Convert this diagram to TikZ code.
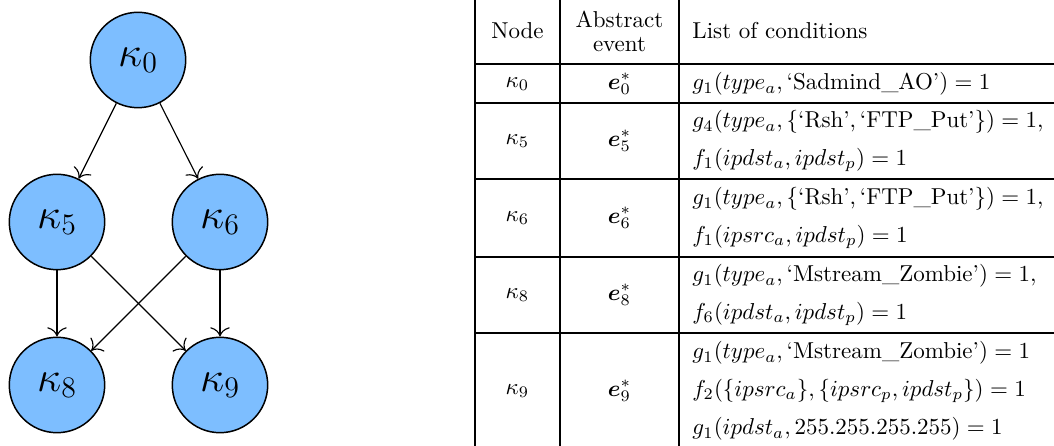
\documentclass[tikz,border=0pt]{standalone}
\usepackage{graphicx,amsmath,amssymb}
\definecolor{nodeblue}{RGB}{125,190,255}
\usetikzlibrary{arrows.meta,positioning}
\newcommand{\bigk}[1]{\scalebox{0.9}{$\kappa_{#1}$}}

\begin{document}
\begin{tikzpicture}[x=0.435pt, y=-0.435pt, >={To[scale=1.5]},
  kap/.style={circle, draw, line width=0.65pt, fill=nodeblue, minimum size=41.5pt, inner sep=0pt, font=\huge},
  edge/.style={->, line width=0.5pt},
  rule/.style={line width=0.45pt},
  cell/.style={inner sep=0pt, anchor=center},
  cond/.style={inner sep=0pt, anchor=west}]
\useasboundingbox (0,0) rectangle (1054,446);
% Graph
\node[kap] (k0) at (138,60) {\bigk{0}};
\node[kap] (k5) at (57,222) {\bigk{5}};
\node[kap] (k6) at (220,222) {\bigk{6}};
\node[kap] (k8) at (57,385) {\bigk{8}};
\node[kap] (k9) at (220,385) {\bigk{9}};
\draw[edge] (k0) -- (k5);
\draw[edge] (k0) -- (k6);
\draw[edge] (k5) -- (k8);
\draw[edge] (k5) -- (k9);
\draw[edge] (k6) -- (k8);
\draw[edge] (k6) -- (k9);
% Table rules
\draw[rule] (475,0) -- (475,446);
\draw[rule] (560,0) -- (560,446);
\draw[rule] (679,0) -- (679,446);
\draw[rule] (475,64) -- (1054,64);
\draw[rule] (475,103) -- (1054,103);
\draw[rule] (475,179) -- (1054,179);
\draw[rule] (475,257) -- (1054,257);
\draw[rule] (475,333) -- (1054,333);
% Header
\node[cell] (hnode) at (517.5,31) {Node};
\node[cell, align=center] (hevent) at (619.5,31) {Abstract\\[-1.5pt]event};
\node[cond] (hlist) at (692,31) {List of conditions};
% Row kappa_0
\node[cell] (n0) at (517.5,84) {$\kappa_0$};
\node[cell] (e0) at (619.5,84) {$\boldsymbol{e}^*_0$};
\node[cond] (c0a) at (692,84) {$g_1(type_a, \text{`Sadmind\_AO'}) = 1$};
% Row kappa_5
\node[cell] (n5) at (517.5,141) {$\kappa_5$};
\node[cell] (e5) at (619.5,141) {$\boldsymbol{e}^*_5$};
\node[cond] (c5a) at (692,122) {$g_4(type_a, \{\text{`Rsh'}, \text{`FTP\_Put'}\}) = 1,$};
\node[cond] (c5b) at (692,160) {$f_1(ipdst_a, ipdst_p) = 1$};
% Row kappa_6
\node[cell] (n6) at (517.5,218) {$\kappa_6$};
\node[cell] (e6) at (619.5,218) {$\boldsymbol{e}^*_6$};
\node[cond] (c6a) at (692,199) {$g_1(type_a, \{\text{`Rsh'}, \text{`FTP\_Put'}\}) = 1,$};
\node[cond] (c6b) at (692,237) {$f_1(ipsrc_a, ipdst_p) = 1$};
% Row kappa_8
\node[cell] (n8) at (517.5,295) {$\kappa_8$};
\node[cell] (e8) at (619.5,295) {$\boldsymbol{e}^*_8$};
\node[cond] (c8a) at (692,276) {$g_1(type_a, \text{`Mstream\_Zombie'}) = 1,$};
\node[cond] (c8b) at (692,314) {$f_6(ipdst_a, ipdst_p) = 1$};
% Row kappa_9
\node[cell] (n9) at (517.5,391) {$\kappa_9$};
\node[cell] (e9) at (619.5,391) {$\boldsymbol{e}^*_9$};
\node[cond] (c9a) at (692,353) {$g_1(type_a, \text{`Mstream\_Zombie'}) = 1$};
\node[cond] (c9b) at (692,391) {$f_2(\{ipsrc_a\}, \{ipsrc_p, ipdst_p\}) = 1$};
\node[cond] (c9c) at (692,429) {$g_1(ipdst_a, 255.255.255.255) = 1$};
\end{tikzpicture}
\end{document}
